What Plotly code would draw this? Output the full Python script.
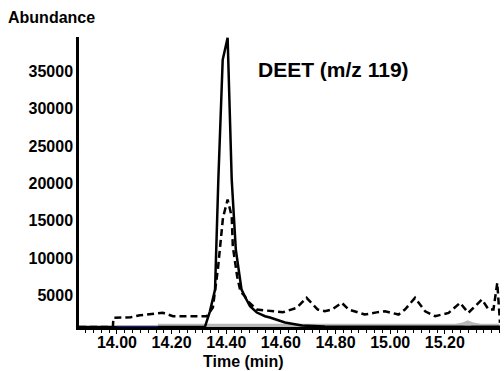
import plotly.graph_objects as go

# Solid trace (m/z 119, sample)
solid_t = [13.861, 14.322, 14.340, 14.359, 14.371, 14.387, 14.405, 14.420, 14.435, 14.456,
           14.468, 14.487, 14.512, 14.542, 14.560, 14.615, 14.677, 14.761, 15.402]
solid_y = [740, 760, 2811, 5756, 20482, 36546, 39500, 20482, 11111, 5756,
           4819, 3521, 2677, 2182, 2008, 1339, 937, 803, 760]

# Dashed trace
dash_t = [13.861, 13.985, 13.987, 14.050, 14.084, 14.168, 14.205, 14.260, 14.329, 14.351,
          14.370, 14.388, 14.405, 14.420, 14.424, 14.440, 14.452, 14.468, 14.479, 14.511,
          14.560, 14.607, 14.658, 14.694, 14.735, 14.761, 14.787, 14.823, 14.848, 14.871,
          14.907, 14.950, 14.981, 15.031, 15.054, 15.091, 15.128, 15.165, 15.214, 15.256,
          15.286, 15.336, 15.360, 15.378, 15.392, 15.402]
dash_y = [740, 740, 1968, 2050, 2316, 2637, 2182, 2182, 2182, 3347,
          8702, 15395, 17805, 15569, 11550, 7500, 5500, 4859, 4190, 3079,
          2851, 2717, 3307, 4645, 3079, 2851, 3079, 3976, 3079, 2851,
          2410, 2700, 2851, 2410, 3079, 4645, 2851, 2182, 2637, 3976,
          2637, 4418, 3079, 3079, 6650, 1299]

# Faint background traces near the baseline
gray_t = [14.150, 15.240, 15.270, 15.284, 15.300, 15.330, 15.400]
gray_y = [950, 950, 1150, 1400, 1150, 950, 950]
blue_t = [14.000, 14.150]
blue_y = [820, 820]

x_ticks = [14.00, 14.20, 14.40, 14.60, 14.80, 15.00, 15.20]
x_labels = ["14.00", "14.20", "14.40", "14.60", "14.80", "15.00", "15.20"]
y_ticks = [5000, 10000, 15000, 20000, 25000, 30000, 35000]
y_labels = ["5000", "10000", "15000", "20000", "25000", "30000", "35000"]

FONT = "Liberation Sans, Arial, Helvetica, sans-serif"

fig = go.Figure()
fig.add_trace(go.Scatter(x=gray_t, y=gray_y, mode="lines",
                         line=dict(color="#b8b8b8", width=3.5), hoverinfo="skip"))
fig.add_trace(go.Scatter(x=solid_t, y=solid_y, mode="lines",
                         line=dict(color="black", width=2.5)))
fig.add_trace(go.Scatter(x=blue_t, y=blue_y, mode="lines",
                         line=dict(color="#1a1a8c", width=1), hoverinfo="skip"))
fig.add_trace(go.Scatter(x=dash_t, y=dash_y, mode="lines",
                         line=dict(color="black", width=2.5, dash="7px,4px")))

fig.update_layout(
    width=504, height=371,
    margin=dict(l=79, r=4, t=37, b=44),
    paper_bgcolor="white", plot_bgcolor="white",
    showlegend=False,
    font=dict(family=FONT, color="black"),
    xaxis=dict(range=[13.861, 15.402], tickvals=x_ticks, ticktext=x_labels,
               showgrid=False, zeroline=False, showline=True, linecolor="black",
               linewidth=2.5, ticks="outside", ticklen=4, tickwidth=1.2, tickcolor="black",
               ticklabelstandoff=-5,
               tickfont=dict(size=16, weight="bold", family=FONT),
               minor=dict(dtick=0.2 / 7, tick0=14.0, ticks="outside", ticklen=3,
                          tickwidth=1, tickcolor="black")),
    yaxis=dict(range=[740, 39600], tickvals=y_ticks, ticktext=y_labels,
               showgrid=False, zeroline=False, showline=True, linecolor="black",
               linewidth=2.5, ticks="",
               tickfont=dict(size=16, weight="bold", family=FONT)),
    annotations=[
        dict(text="<b>Abundance</b>", xref="paper", yref="paper", x=-73 / 421, y=1 + 20 / 290.5,
             xanchor="left", yanchor="middle", showarrow=False, font=dict(size=16, family=FONT)),
        dict(text="<b>Time (min)</b>", x=14.464, xref="x", yref="paper", y=-35 / 290.5,
             xanchor="center", yanchor="middle", showarrow=False, font=dict(size=16, family=FONT)),
        dict(text="<b>DEET (m/z 119)</b>", x=14.51, xref="x", yref="paper", y=(327.5 - 70) / 290.5,
             xanchor="left", yanchor="middle", showarrow=False, font=dict(size=21, family=FONT)),
    ],
)

fig.write_html("out.html")
